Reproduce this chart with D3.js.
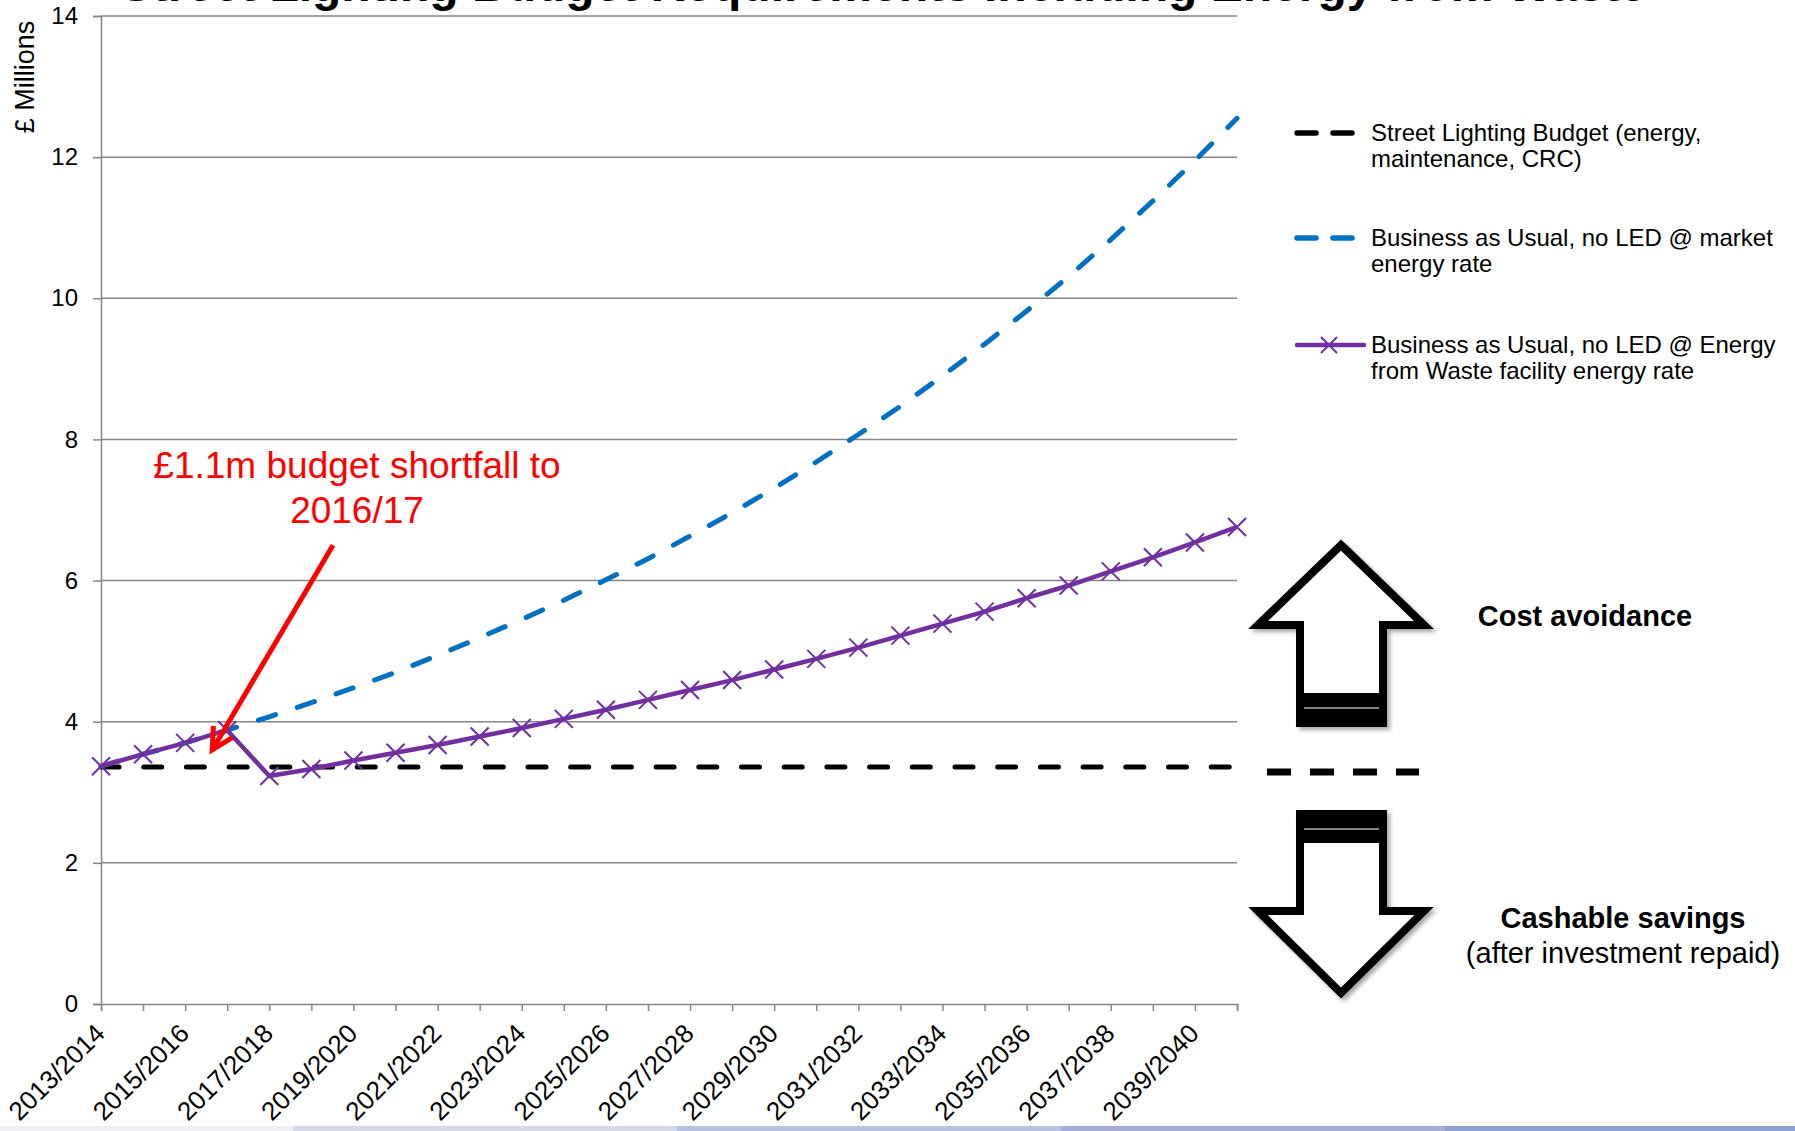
<!DOCTYPE html>
<html>
<head>
<meta charset="utf-8">
<script src="https://cdn.jsdelivr.net/npm/d3@7/dist/d3.min.js"></script>
<style>
  body { margin: 0; background: #fff; }
  svg { display: block; font-family: "Liberation Sans", Arial, sans-serif; }
</style>
</head>
<body>
<script>
// chart values
var categories = ["2013/2014", "2014/2015", "2015/2016", "2016/2017", "2017/2018", "2018/2019", "2019/2020",
  "2020/2021", "2021/2022", "2022/2023", "2023/2024", "2024/2025", "2025/2026", "2026/2027", "2027/2028",
  "2028/2029", "2029/2030", "2030/2031", "2031/2032", "2032/2033", "2033/2034", "2034/2035", "2035/2036",
  "2036/2037", "2037/2038", "2038/2039", "2039/2040", "2040/2041"];

var budget = [3.36, 3.36, 3.36, 3.36, 3.36, 3.36, 3.36, 3.36, 3.36, 3.36, 3.36, 3.36, 3.36, 3.36,
  3.36, 3.36, 3.36, 3.36, 3.36, 3.36, 3.36, 3.36, 3.36, 3.36, 3.36, 3.36, 3.36, 3.36];

var bauMarket = [3.37, 3.54, 3.70, 3.88, 4.07, 4.27, 4.48, 4.70, 4.94, 5.19, 5.45, 5.72, 6.01, 6.31,
  6.63, 6.96, 7.31, 7.68, 8.07, 8.47, 8.90, 9.35, 9.82, 10.31, 10.83, 11.38, 11.95, 12.55];

var bauEfw = [3.37, 3.54, 3.70, 3.88, 3.23, 3.33, 3.45, 3.56, 3.67, 3.79, 3.91, 4.04, 4.17, 4.31,
  4.45, 4.59, 4.74, 4.89, 5.05, 5.22, 5.39, 5.56, 5.75, 5.93, 6.13, 6.33, 6.54, 6.76];

var yTicks = [0, 2, 4, 6, 8, 10, 12, 14];

var legendLabels = [
  ["Street Lighting Budget (energy,", "maintenance, CRC)"],
  ["Business as Usual, no LED @ market", "energy rate"],
  ["Business as Usual, no LED @ Energy", "from Waste facility energy rate"]
];

var title = "Street Lighting Budget Requirements Including Energy from Waste";
var yLabel = "£ Millions";

function drawChart () {

  var width = 1795;
  var height = 1131;
  var left = 101, right = 1237, top = 16, bottom = 1004;
  var gridColor = "#868686";
  var purple = "#7030A0", blue = "#0070C0";

  var svg = d3.select("body").append("svg")
      .attr("width", width)
      .attr("height", height);

  var defs = svg.append("defs");
  defs.append("filter")
      .attr("id", "shadow")
      .attr("x", "-20%").attr("y", "-20%").attr("width", "140%").attr("height", "140%")
    .append("feDropShadow")
      .attr("dx", 3).attr("dy", 3)
      .attr("stdDeviation", 2)
      .attr("flood-color", "#000")
      .attr("flood-opacity", 0.35);

  //scales
  var xScale = d3.scalePoint()
      .domain(categories)
      .range([left, right]);
  var yScale = d3.scaleLinear()
      .domain([0, 14])
      .range([bottom, top]);

  //gridlines
  svg.append("g")
    .selectAll("line")
    .data(yTicks.filter(function(d) { return d > 0; }))
    .enter()
    .append("line")
      .attr("x1", left)
      .attr("x2", right)
      .attr("y1", function(d) { return yScale(d); })
      .attr("y2", function(d) { return yScale(d); })
      .attr("stroke", gridColor)
      .attr("stroke-width", 1.5);

  //X axis, every category gets a tick but only every other one a label
  var xAxis = d3.axisBottom(xScale)
      .tickSize(7)
      .tickFormat(function(d, i) { return i % 2 === 0 ? d : ""; });

  var gx = svg.append("g")
      .attr("transform", "translate(0," + bottom + ")")
      .call(xAxis);
  gx.select(".domain").attr("stroke", gridColor).attr("stroke-width", 1.5);
  gx.selectAll(".tick line").attr("stroke", gridColor).attr("stroke-width", 1.5);
  gx.selectAll(".tick text")
      .attr("x", 0).attr("y", 0).attr("dy", 0)
      .attr("transform", "translate(5,31) rotate(-45)")
      .attr("text-anchor", "end")
      .attr("font-size", "26px")
      .attr("font-family", "Liberation Sans, Arial, sans-serif")
      .attr("fill", "#000");

  //Y axis
  var yAxis = d3.axisLeft(yScale)
      .tickValues(yTicks)
      .tickSize(8)
      .tickPadding(15);

  var gy = svg.append("g")
      .attr("transform", "translate(" + left + ",0)")
      .call(yAxis);
  gy.select(".domain").attr("stroke", gridColor).attr("stroke-width", 1.5);
  gy.selectAll(".tick line").attr("stroke", gridColor).attr("stroke-width", 1.5);
  gy.selectAll(".tick text")
      .attr("font-size", "24px")
      .attr("font-family", "Liberation Sans, Arial, sans-serif")
      .attr("fill", "#000");

  //y label
  svg.append("text")
      .attr("transform", "translate(34,77) rotate(-90)")
      .attr("text-anchor", "middle")
      .attr("font-size", "27px")
      .text(yLabel);

  //title, mostly cut off above the picture
  svg.append("text")
      .attr("x", 120)
      .attr("y", 1)
      .attr("font-size", "48px")
      .attr("font-weight", "bold")
      .text(title);

  var line = d3.line()
      .x(function(d, i) { return xScale(categories[i]); })
      .y(function(d) { return yScale(d); });

  //series
  svg.append("path")
      .datum(budget)
      .attr("d", line)
      .attr("fill", "none")
      .attr("stroke", "#000")
      .attr("stroke-width", 5)
      .attr("stroke-linecap", "round")
      .attr("stroke-dasharray", "18,24.7");

  svg.append("path")
      .datum(bauMarket)
      .attr("d", line)
      .attr("fill", "none")
      .attr("stroke", blue)
      .attr("stroke-width", 5)
      .attr("stroke-linecap", "round")
      .attr("stroke-dasharray", "18,23");

  svg.append("path")
      .datum(bauEfw)
      .attr("d", line)
      .attr("fill", "none")
      .attr("stroke", purple)
      .attr("stroke-width", 4.5)
      .attr("stroke-linejoin", "round");

  //x markers
  var m = 9;
  svg.append("g")
    .selectAll("path")
    .data(bauEfw)
    .enter()
    .append("path")
      .attr("d", function(d, i) {
        var x = xScale(categories[i]), y = yScale(d);
        return "M" + (x - m) + "," + (y - m) + "L" + (x + m) + "," + (y + m) +
               "M" + (x - m) + "," + (y + m) + "L" + (x + m) + "," + (y - m);
      })
      .attr("stroke", purple)
      .attr("stroke-width", 2);

  //legend
  var legendY = [133, 238, 345];
  var lg = svg.append("g");
  var sampleStyles = [
    { color: "#000", dash: "19,17", cap: "round" },
    { color: blue, dash: "19,17", cap: "round" },
    { color: purple, dash: null, cap: "round" }
  ];
  legendLabels.forEach(function(lbl, k) {
    var y = legendY[k];
    var s = lg.append("line")
        .attr("x1", 1297).attr("x2", k === 2 ? 1364 : 1358)
        .attr("y1", y).attr("y2", y)
        .attr("stroke", sampleStyles[k].color)
        .attr("stroke-width", k === 2 ? 4.5 : 5.5)
        .attr("stroke-linecap", sampleStyles[k].cap);
    if (sampleStyles[k].dash) s.attr("stroke-dasharray", sampleStyles[k].dash);
    if (k === 2) {
      lg.append("path")
          .attr("d", "M1321," + (y - 8) + "L1337," + (y + 8) + "M1321," + (y + 8) + "L1337," + (y - 8))
          .attr("stroke", purple)
          .attr("stroke-width", 2);
    }
    var t = lg.append("text")
        .attr("x", 1371)
        .attr("y", y + 8)
        .attr("font-size", "24px")
        .attr("fill", "#000");
    t.append("tspan").attr("x", 1371).text(lbl[0]);
    t.append("tspan").attr("x", 1371).attr("dy", 26).text(lbl[1]);
  });

  //annotation
  var ann = svg.append("g").attr("fill", "#FF0000");
  ann.append("text")
      .attr("x", 357).attr("y", 478)
      .attr("text-anchor", "middle")
      .attr("font-size", "37px")
      .text("£1.1m budget shortfall to");
  ann.append("text")
      .attr("x", 357).attr("y", 523)
      .attr("text-anchor", "middle")
      .attr("font-size", "37px")
      .text("2016/17");

  var tipX = xScale(categories[3]) - 15, tipY = yScale(3.6);
  var startX = 333, startY = yScale(6.5);
  var ang = Math.atan2(tipY - startY, tipX - startX);
  var al = 24, spread = Math.PI / 6.5;
  svg.append("path")
      .attr("d", "M" + startX + "," + startY + "L" + tipX + "," + tipY +
        "M" + (tipX - al * Math.cos(ang - spread)) + "," + (tipY - al * Math.sin(ang - spread)) +
        "L" + tipX + "," + tipY +
        "L" + (tipX - al * Math.cos(ang + spread)) + "," + (tipY - al * Math.sin(ang + spread)))
      .attr("fill", "none")
      .attr("stroke", "#FF0000")
      .attr("stroke-width", 5)
      .attr("stroke-linejoin", "miter");

  //block arrows on the right
  var arrows = svg.append("g").attr("filter", "url(#shadow)");
  arrows.append("path")
      .attr("d", "M1341,545 L1424,625 L1383,625 L1383,723 L1300,723 L1300,625 L1258,625 Z")
      .attr("fill", "#fff").attr("stroke", "#000").attr("stroke-width", 8)
      .attr("stroke-linejoin", "miter");
  arrows.append("rect")
      .attr("x", 1296).attr("y", 693).attr("width", 91).attr("height", 34)
      .attr("fill", "#000");
  arrows.append("path")
      .attr("d", "M1300,814 L1383,814 L1383,911 L1424,911 L1341,993 L1258,911 L1300,911 Z")
      .attr("fill", "#fff").attr("stroke", "#000").attr("stroke-width", 8)
      .attr("stroke-linejoin", "miter");
  arrows.append("rect")
      .attr("x", 1296).attr("y", 810).attr("width", 91).attr("height", 33)
      .attr("fill", "#000");
  svg.append("line")
      .attr("x1", 1304).attr("x2", 1379).attr("y1", 708).attr("y2", 708)
      .attr("stroke", "#b0b0b0").attr("stroke-width", 1.5);
  svg.append("line")
      .attr("x1", 1304).attr("x2", 1379).attr("y1", 829).attr("y2", 829)
      .attr("stroke", "#b0b0b0").attr("stroke-width", 1.5);

  svg.append("line")
      .attr("x1", 1267).attr("x2", 1419).attr("y1", 772).attr("y2", 772)
      .attr("stroke", "#000").attr("stroke-width", 7)
      .attr("stroke-dasharray", "24,19");

  svg.append("text")
      .attr("x", 1585).attr("y", 626)
      .attr("text-anchor", "middle")
      .attr("font-size", "29px")
      .attr("font-weight", "bold")
      .text("Cost avoidance");
  svg.append("text")
      .attr("x", 1623).attr("y", 928)
      .attr("text-anchor", "middle")
      .attr("font-size", "29px")
      .attr("font-weight", "bold")
      .text("Cashable savings");
  svg.append("text")
      .attr("x", 1623).attr("y", 963)
      .attr("text-anchor", "middle")
      .attr("font-size", "29px")
      .text("(after investment repaid)");

  //slide footer strip
  var bands = [[0, 293, "#eef0f4"], [293, 677, "#d6d8ea"], [677, 1061, "#bcc0e0"],
               [1061, 1445, "#a7acd5"], [1445, 1795, "#8da2cd"]];
  svg.append("g")
    .selectAll("rect")
    .data(bands)
    .enter()
    .append("rect")
      .attr("x", function(d) { return d[0]; })
      .attr("width", function(d) { return d[1] - d[0]; })
      .attr("y", 1126)
      .attr("height", 5)
      .attr("fill", function(d) { return d[2]; });
}

drawChart();
</script>
</body>
</html>
